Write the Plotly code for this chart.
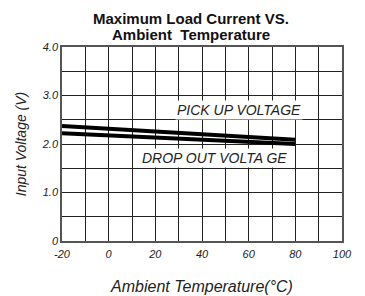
import plotly.graph_objects as go

temps = [-20, 80]
pick_up = [2.37, 2.09]
drop_out = [2.22, 2.00]
x_ticks = [-20, 0, 20, 40, 60, 80, 100]
y_ticks = [0, 1, 2, 3, 4]
y_tick_labels = ["0", "1.0", "2.0", "3.0", "4.0"]

font_fam = "Liberation Sans, Arial, sans-serif"

fig = go.Figure()
fig.add_trace(go.Scatter(x=temps, y=pick_up, mode="lines",
                         line=dict(color="black", width=4), showlegend=False))
fig.add_trace(go.Scatter(x=temps, y=drop_out, mode="lines",
                         line=dict(color="black", width=4), showlegend=False))

fig.add_annotation(x=56, y=2.5, xref="x", yref="y", text="<i>PICK UP VOLTAGE</i>",
                   showarrow=False, yanchor="bottom", bgcolor="white", borderpad=1,
                   font=dict(family=font_fam, size=14, color="#222"))
fig.add_annotation(x=45.5, y=1.5, xref="x", yref="y", text="<i>DROP OUT VOLTA GE</i>",
                   showarrow=False, yanchor="bottom", bgcolor="white", borderpad=1,
                   font=dict(family=font_fam, size=14, color="#222"))

plot_h = 296 - 47 - 55
fig.add_annotation(x=(191 - 62) / 280, y=1 + (47 - 18) / plot_h, xref="paper", yref="paper",
                   text="<b>Maximum Load Current VS.</b>", showarrow=False,
                   xanchor="center", yanchor="middle",
                   font=dict(family=font_fam, size=15, color="#111"))
fig.add_annotation(x=(191 - 62) / 280, y=1 + (47 - 34) / plot_h, xref="paper", yref="paper",
                   text="<b>Ambient  Temperature</b>", showarrow=False,
                   xanchor="center", yanchor="middle",
                   font=dict(family=font_fam, size=15, color="#111"))

fig.update_layout(
    width=365, height=296,
    margin=dict(l=62, r=23, t=47, b=55, autoexpand=False),
    paper_bgcolor="white", plot_bgcolor="white",
    xaxis=dict(range=[-20, 100], tickvals=x_ticks,
               ticktext=["<i>%s</i>" % v for v in x_ticks],
               showgrid=True, gridcolor="#222", gridwidth=1.2,
               minor=dict(dtick=10, tick0=-20, showgrid=True, gridcolor="#222", gridwidth=1.2),
               showline=True, linecolor="#555", linewidth=1.5, mirror=True,
               zeroline=False, ticks="", ticklabelstandoff=2, automargin=False,
               tickfont=dict(family=font_fam, size=11, color="#222"),
               title=dict(text="<i>Ambient Temperature(°C)</i>", standoff=22,
                          font=dict(family=font_fam, size=16, color="#222"))),
    yaxis=dict(range=[0, 4], tickvals=y_ticks,
               ticktext=["<i>%s</i>" % t for t in y_tick_labels],
               showgrid=True, gridcolor="#222", gridwidth=1.2,
               minor=dict(dtick=0.5, tick0=0, showgrid=True, gridcolor="#222", gridwidth=1.2),
               showline=True, linecolor="#555", linewidth=1.5, mirror=True,
               zeroline=False, ticks="", automargin=False,
               tickfont=dict(family=font_fam, size=11, color="#222"),
               title=dict(text="<i>Input Voltage (V)</i>", standoff=12,
                          font=dict(family=font_fam, size=14, color="#222"))),
)

fig.write_html("out.html", config={"displayModeBar": False},
               post_script="document.body.style.margin='0';")
